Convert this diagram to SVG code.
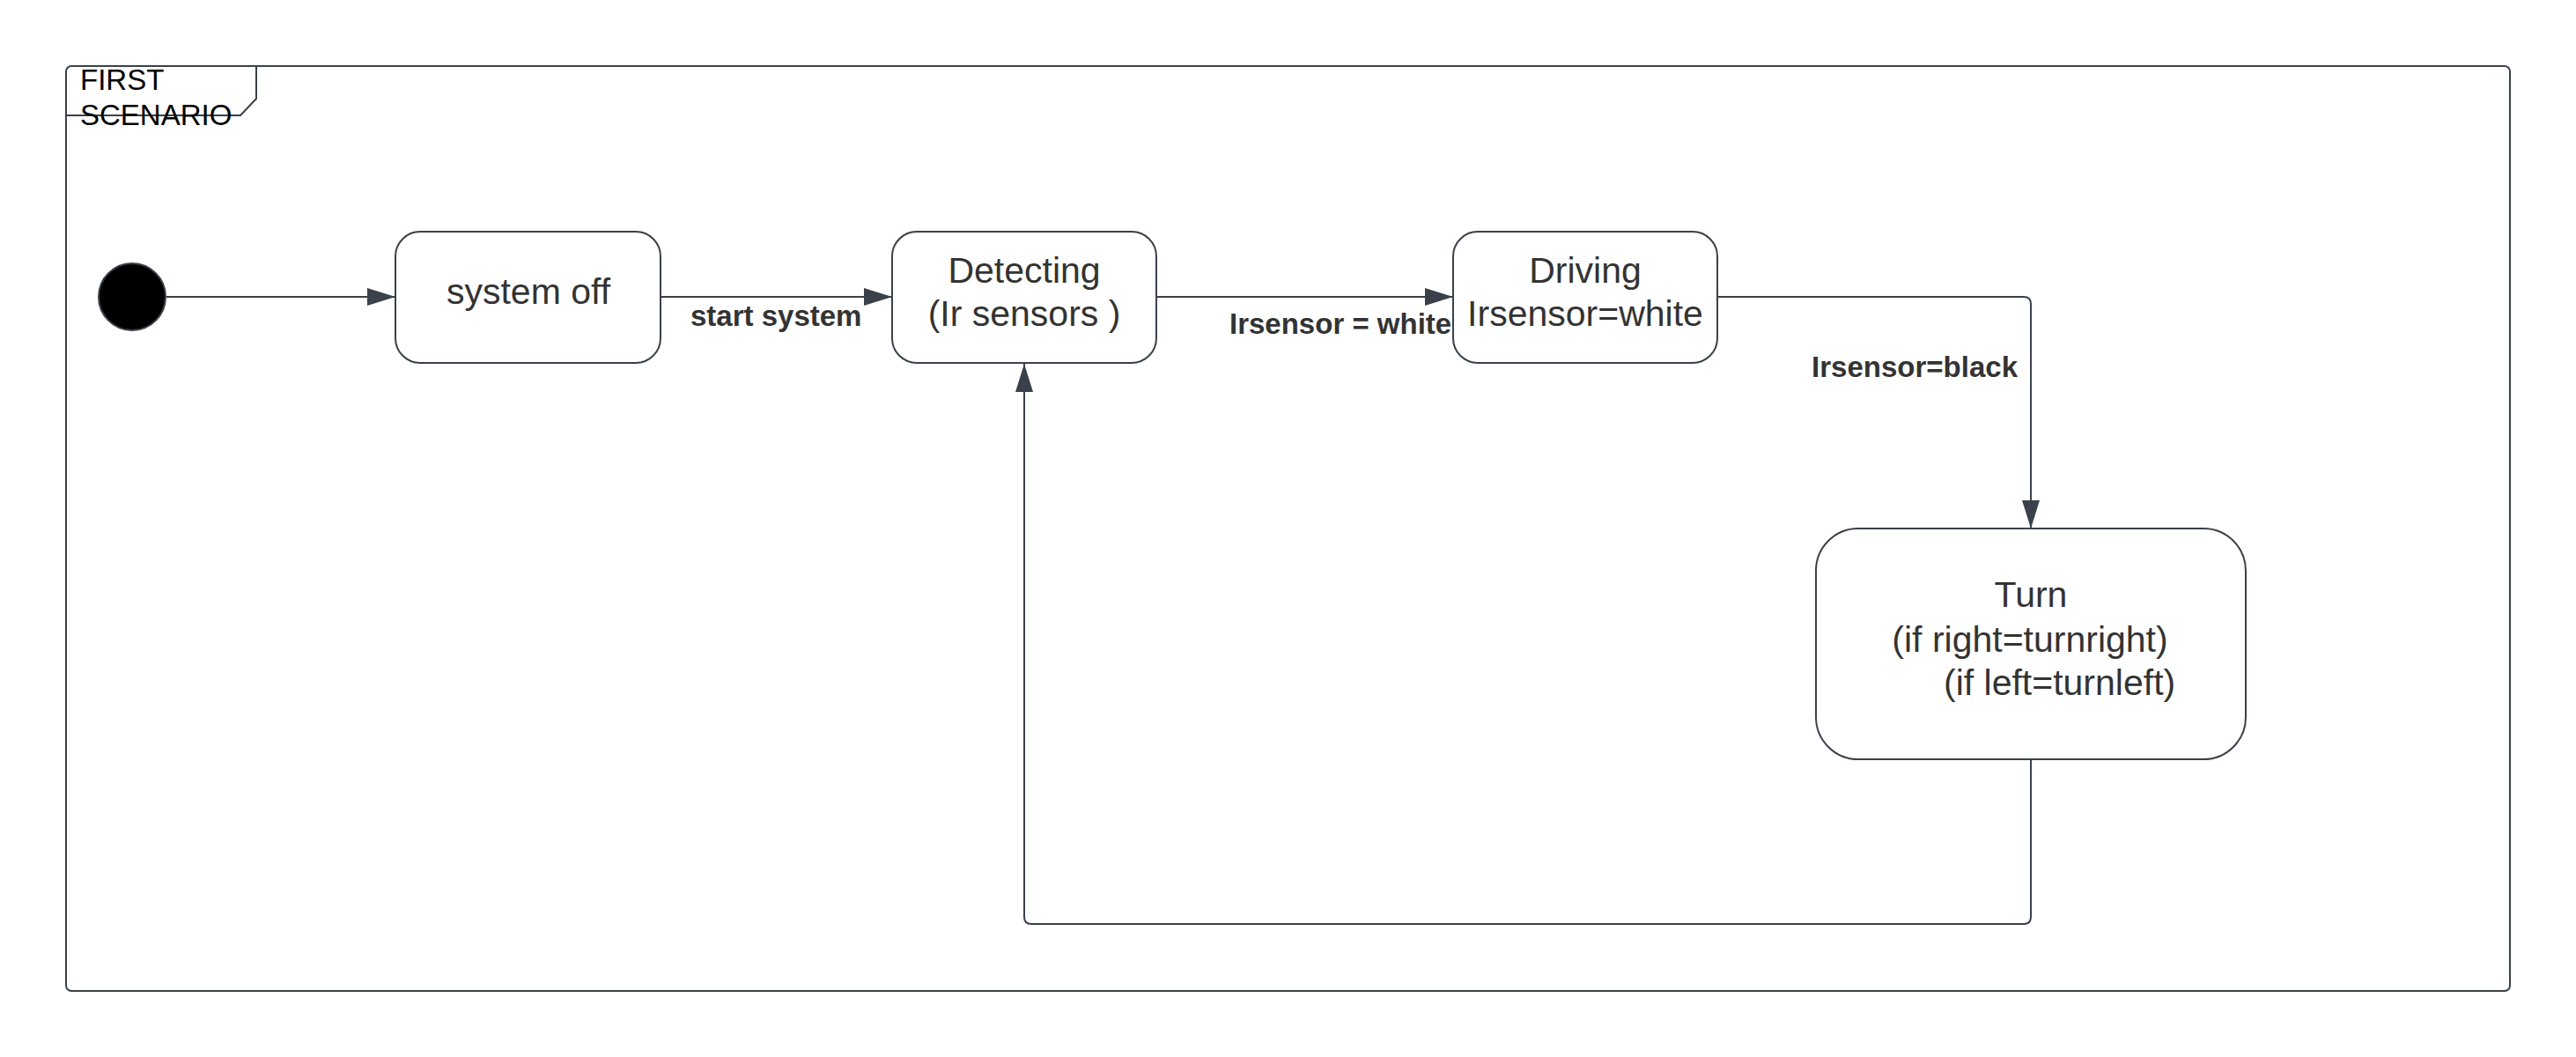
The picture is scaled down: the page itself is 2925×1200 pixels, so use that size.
<svg xmlns="http://www.w3.org/2000/svg" width="2925" height="1200" viewBox="0 0 2925 1200">
<style>
.frame{fill:#ffffff;stroke:#3a414a;stroke-width:2}
.state{fill:#ffffff;stroke:#3a414a;stroke-width:2}
.conn{fill:none;stroke:#3a414a;stroke-width:2}
.lbl{font-family:"Liberation Sans",Arial,sans-serif;font-size:41px;fill:#333333;text-anchor:middle}
.edge{font-family:"Liberation Sans",Arial,sans-serif;font-size:33px;font-weight:bold;fill:#333333}
.title{font-family:"Liberation Sans",Arial,sans-serif;font-size:33px;fill:#000000}
</style>
<defs>
<marker id="arr" markerUnits="userSpaceOnUse" markerWidth="32" markerHeight="20" refX="32" refY="10" orient="auto">
<path d="M0,0 L32,10 L0,20 z" fill="#3a414a"/>
</marker>
</defs>
<rect x="0" y="0" width="2925" height="1200" fill="#ffffff"/>
<g id="frame">
<rect class="frame" x="75" y="75" width="2775" height="1050" rx="6"/>
<path class="conn" d="M291,75 L291,112 L273,131 L75,131"/>
<text class="title" x="91" y="102">FIRST</text>
<text class="title" x="91" y="142">SCENARIO</text>
</g>
<g id="connectors">
<path class="conn" d="M188,337 L449,337" marker-end="url(#arr)"/>
<path class="conn" d="M750,337 L1013,337" marker-end="url(#arr)"/>
<path class="conn" d="M1313,337 L1650,337" marker-end="url(#arr)"/>
<path class="conn" d="M1950,337 L2298,337 Q2306,337 2306,345 L2306,600" marker-end="url(#arr)"/>
<path class="conn" d="M2306,862 L2306,1041 Q2306,1049 2298,1049 L1171,1049 Q1163,1049 1163,1041 L1163,413" marker-end="url(#arr)"/>
<text class="edge" x="784" y="370">start system</text>
<text class="edge" x="1396" y="379">Irsensor = white</text>
<text class="edge" x="2291" y="428" text-anchor="end">Irsensor=black</text>
</g>
<g id="initial">
<circle cx="150" cy="337" r="38" fill="#000000" stroke="#3a414a" stroke-width="2"/>
</g>
<g id="system-off">
<rect class="state" x="449" y="263" width="301" height="149" rx="28"/>
<text class="lbl" x="600" y="345">system off</text>
</g>
<g id="detecting">
<rect class="state" x="1013" y="263" width="300" height="149" rx="28"/>
<text class="lbl" x="1163" y="321">Detecting</text>
<text class="lbl" x="1163" y="370">(Ir sensors )</text>
</g>
<g id="driving">
<rect class="state" x="1650" y="263" width="300" height="149" rx="28"/>
<text class="lbl" x="1800" y="321">Driving</text>
<text class="lbl" x="1800" y="370">Irsensor=white</text>
</g>
<g id="turn">
<rect class="state" x="2062" y="600" width="488" height="262" rx="48"/>
<text class="lbl" x="2306" y="689">Turn</text>
<text class="lbl" x="2305" y="740">(if right=turnright)</text>
<text class="lbl" x="2207" y="789" style="text-anchor:start">(if left=turnleft)</text>
</g>
</svg>
